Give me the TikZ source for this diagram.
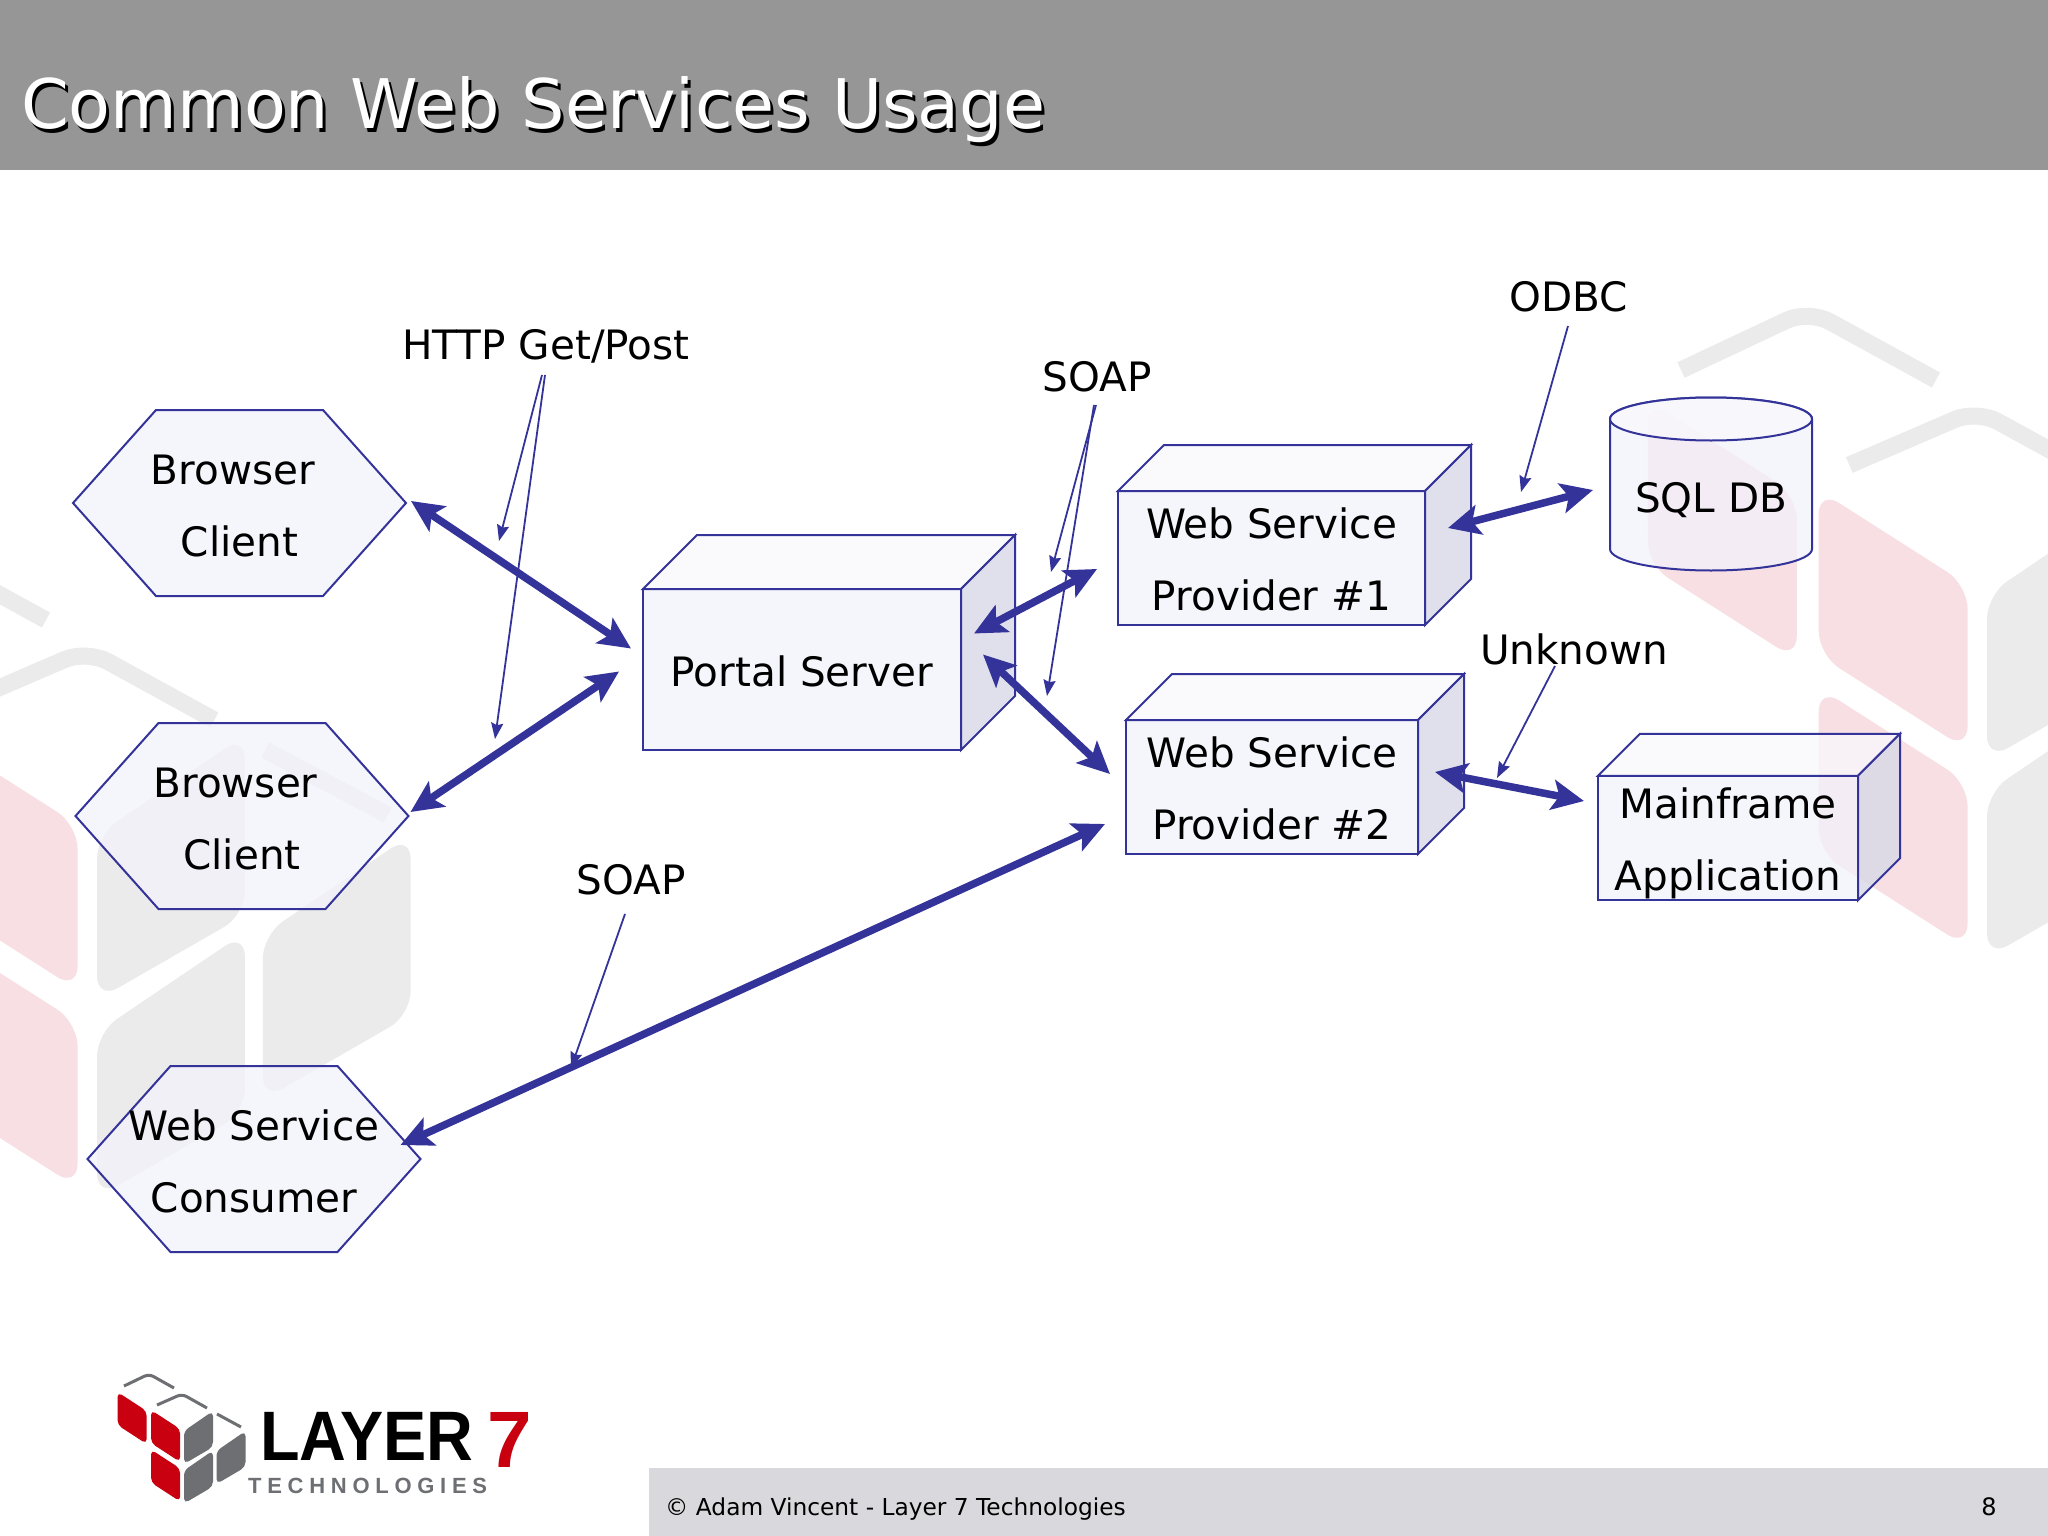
\documentclass[tikz,border=0pt]{standalone}
\usepackage{fontspec}
\setmainfont{DejaVu Sans}
\newfontfamily\logofont[LetterSpace=26]{Liberation Sans Bold}
\newfontfamily\logomark{Liberation Sans Bold}
\usetikzlibrary{arrows.meta}

\definecolor{linkblue}{HTML}{333399}
\definecolor{frontfill}{HTML}{F2F2FB}
\definecolor{lidfill}{HTML}{F9F9FD}
\definecolor{wallfill}{HTML}{D8D9E6}
\definecolor{headgrey}{HTML}{969696}
\definecolor{footgrey}{HTML}{D9D9DD}
\definecolor{logored}{HTML}{C8000F}
\definecolor{logogrey}{HTML}{6D6F73}
\definecolor{palered}{HTML}{F8DFE3}
\definecolor{palegrey}{HTML}{EBEBEB}

\tikzset{
  partline/.style={draw=linkblue, line width=2pt},
  partnode/.style={partline, fill=frontfill, fill opacity=.72, text opacity=1, inner sep=0pt, outer sep=0pt,
    align=center, font=\fontsize{40.5}{72.5}\selectfont},
  hexnode/.style={partnode, draw=none, fill=none},
  toplid/.style={partline, fill=lidfill, fill opacity=.72},
  sidewall/.style={partline, fill=wallfill, fill opacity=.8},
  biglink/.style={{Stealth[length=32pt,width=30pt,inset=7pt]}-{Stealth[length=32pt,width=30pt,inset=7pt]}, draw=linkblue, line width=7.5pt},
  notelink/.style={-{Stealth[length=16pt,width=12pt,inset=2pt]}, draw=linkblue, line width=1.8pt},
  notetext/.style={font=\fontsize{40.5}{47}\selectfont, inner sep=0pt, outer sep=0pt}
}

% box with a lid and a side wall
\newcommand\cubenode[6]{
  \node[partnode, minimum width=#3pt, minimum height=#4pt] (#1) at (#2) {\rule{0pt}{34pt}#6};
  \draw[toplid] (#1.north west) -- ++(#5,-#5) -- ++(#3,0) -- (#1.north east) -- cycle;
  \draw[sidewall] (#1.north east) -- ++(#5,-#5) -- ++(0,#4) -- (#1.south east) -- cycle;
}
% hexagon, all of them have the same size
\newcommand\hexbox[3]{
  \draw[partline, fill=frontfill, fill opacity=.72] (#2) ++(-166.5,0) -- ++(83,-93) -- ++(167,0) -- ++(83,93) -- ++(-83,93) -- ++(-167,0) -- cycle;
  \node[hexnode, minimum width=333pt, minimum height=186pt] (#1) at (#2) {\rule{0pt}{36pt}#3};
}
% the cubes of the logo, also used big and pale behind the slide
\newcommand\layercubes[4]{
  \foreach \px/\py in {-66.5/-18,-33/0,-33/39.5}
  \fill[#1, rounded corners=#3] (\px,\py-3) -- ++(29.2,19) -- ++(0,33) -- ++(-29.2,-19) -- cycle;
  \foreach \px/\py in {0/0,0/39.5,32.5/20}
  \fill[#2, rounded corners=#3] (\px,\py+18) -- ++(29,-20) -- ++(0,36) -- ++(-29,17) -- cycle;
  \draw[#2, line width=#4, rounded corners=#3] (-60,-27) -- (-35,-39) -- (-10,-25);
  \draw[#2, line width=#4, rounded corners=#3] (-27,-8) -- (-2,-19) -- (23,-5);
  \draw[#2, line width=#4] (33,1) -- (57,14);
}

\begin{document}
\begin{tikzpicture}[x=1pt,y=-1pt]
   \useasboundingbox (0,0) rectangle (2048,1536);
   \fill[white] (0,0) rectangle (2048,1536);

   % watermark
   \begin{scope}[shift={(1987,505)},xscale=5.1,yscale=5]
   \layercubes{palered}{palegrey}{24pt}{17pt}
   \end{scope}
   \begin{scope}[shift={(97,745)},xscale=5.1,yscale=5]
   \layercubes{palered}{palegrey}{24pt}{17pt}
   \end{scope}

   % header and footer
   \fill[headgrey] (0,0) rectangle (2048,170);
   \fill[footgrey] (649,1468) rectangle (2048,1536);
   \node[anchor=base west, inner sep=0pt, font=\fontsize{68.4}{70}\selectfont, text=black] (titleshade) at (24,132) {Common Web Services Usage};
   \node[anchor=base west, inner sep=0pt, font=\fontsize{68.4}{70}\selectfont, text=white] (title) at (21,129) {Common Web Services Usage};
   \node[anchor=base west, inner sep=0pt, font=\fontsize{23.3}{28}\selectfont] (foot) at (665,1515) {\textcopyright{} Adam Vincent - Layer 7 Technologies};
   \node[anchor=base, inner sep=0pt, font=\fontsize{24}{28}\selectfont] (pageno) at (1989,1515) {8};

   % logo
   \begin{scope}[shift={(184,1413)}]
   \layercubes{logored}{logogrey}{5pt}{3pt}
   \end{scope}
   \node[anchor=base west, inner sep=0pt, font=\logomark\fontsize{70}{70}\selectfont] (layer) at (260,1460) {\scalebox{.925}[1]{LAYER}};
   \node[anchor=base west, inner sep=0pt, font=\logomark\fontsize{80}{80}\selectfont, text=logored] (seven) at (487,1467) {7};
   \node[anchor=base west, inner sep=0pt, font=\logofont\fontsize{22}{22}\selectfont, text=logogrey] (tech) at (248,1493) {TECHNOLOGIES};

   % left column
   \hexbox{browserA}{239.5,503}{Browser\hspace*{13pt}\\Client}
   \hexbox{browserB}{242,816}{Browser\hspace*{13pt}\\Client}
   \hexbox{consumer}{254,1159}{Web Service\\Consumer}

   % servers
   \cubenode{portal}{802,669.5}{318}{161}{54}{Portal Server}
   \cubenode{providerA}{1271.5,558}{307}{134}{46}{Web Service\\Provider \#1}
   \cubenode{providerB}{1272,787}{292}{134}{46}{Web Service\\Provider \#2}
   \cubenode{mainframe}{1728,838}{260}{124.5}{42}{\rule{0pt}{41pt}Mainframe\\Application}

   % database
   \draw[partline, fill=frontfill, fill opacity=.72] (1610,419) -- (1610,549) arc[start angle=180, end angle=0, x radius=101, y radius=21.5]
     -- (1812,419) arc[start angle=0, end angle=-180, x radius=101, y radius=21.5] -- cycle;
   \draw[partline, fill=lidfill, fill opacity=.72] (1711,419) ellipse[x radius=101, y radius=21.5];
   \node[notetext, minimum width=202pt] (sqldb) at (1711,500) {SQL DB};

   % labels
   \node[notetext] (http) at (546,346) {HTTP Get/Post};
   \node[notetext] (soapA) at (1097,377) {SOAP};
   \node[notetext] (odbc) at (1569,297) {ODBC};
   \node[notetext] (unknown) at (1574,649) {Unknown};
   \node[notetext] (soapB) at (631,880) {SOAP};

   % thick links
   \draw[biglink] ([shift={(5,-2)}]browserA.east) -- ([shift={(-12,-21)}]portal.west);
   \draw[biglink] ([shift={(2,-4)}]browserB.east) -- ([shift={(-24,2)}]portal.west);
   \draw[biglink] ([shift={(-20,-14)}]consumer.east) -- ([shift={(-21,37)}]providerB.west);
   \draw[biglink] ([shift={(13,-36)}]portal.east) -- ([shift={(-21,11)}]providerA.west);
   \draw[biglink] ([shift={(22,-15)}]portal.east) -- ([shift={(-16,-13)}]providerB.west);
   \draw[biglink] ([shift={(23,-30)}]providerA.east) -- ([shift={(-17,-10)}]sqldb.west);
   \draw[biglink] ([shift={(17,-15)}]providerB.east) -- ([shift={(-14,-37)}]mainframe.west);

   % notes
   \draw[notelink] ([shift={(-4,29)}]http.center) -- ([shift={(-47,195)}]http.center);
   \draw[notelink] ([shift={(-1,29)}]http.center) -- ([shift={(-51,393)}]http.center);
   \draw[notelink] ([shift={(-1,28)}]soapA.center) -- ([shift={(-46,195)}]soapA.center);
   \draw[notelink] ([shift={(-3,28)}]soapA.center) -- ([shift={(-50,319)}]soapA.center);
   \draw[notelink] ([shift={(-1,29)}]odbc.center) -- ([shift={(-48,195)}]odbc.center);
   \draw[notelink] ([shift={(-19,17)}]unknown.center) -- ([shift={(-77,129)}]unknown.center);
   \draw[notelink] ([shift={(-6,34)}]soapB.center) -- ([shift={(-60,188)}]soapB.center);

\end{tikzpicture}
\end{document}
